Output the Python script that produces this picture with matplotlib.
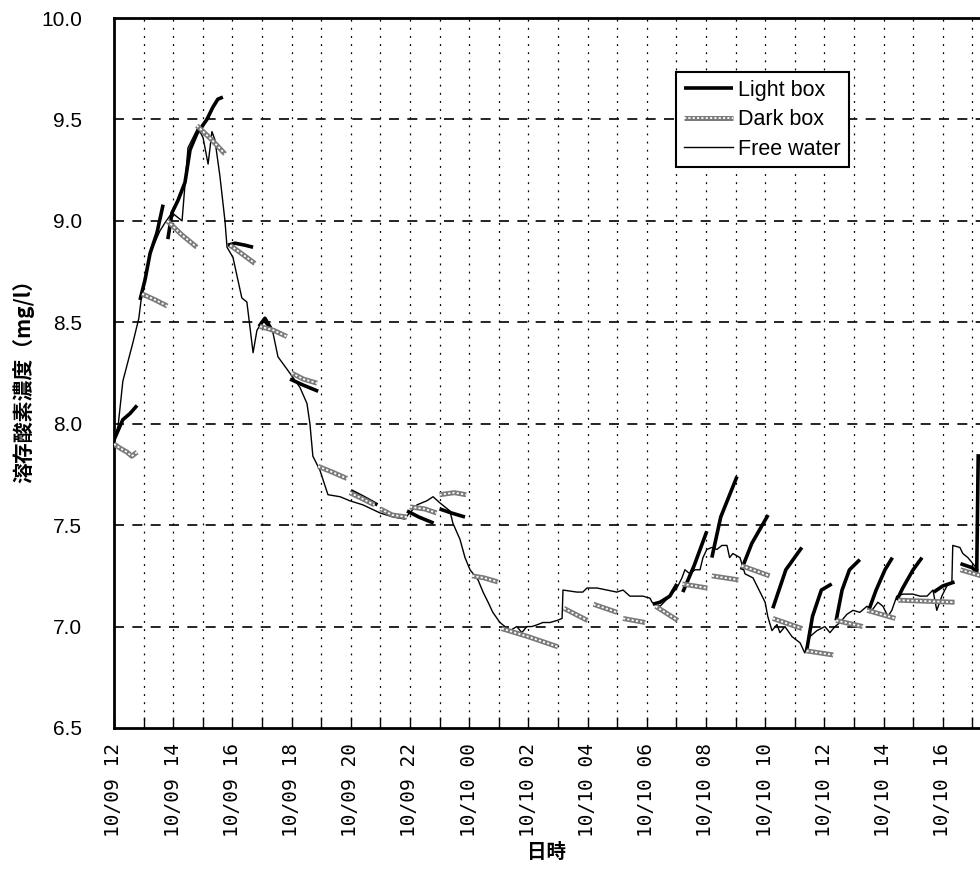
import numpy as np
import matplotlib
matplotlib.use("Agg")
import matplotlib.pyplot as plt
from matplotlib.ticker import MultipleLocator

nan = np.nan

# hours after 10/09 12:00
free_h = [0, 0.14, 0.30, 0.64, 0.84, 0.95, 1.22, 1.55, 1.72, 1.96, 2.30, 2.50, 2.84, 3.01,
          3.18, 3.31, 3.41, 3.58, 3.75, 3.82, 4.02, 4.32, 4.49, 4.70, 4.83, 5.03, 5.37,
          5.54, 5.84, 6.28, 6.52, 6.62, 6.72, 6.96, 7.23, 7.64, 7.97, 8.41, 8.99, 9.43,
          9.83, 9.93, 10.24, 10.57, 10.78, 11.01, 11.35, 11.45, 11.69, 11.86, 12.03, 12.30,
          12.47, 12.64, 12.80, 13.04, 13.21, 13.38, 13.61, 13.78, 13.95, 14.12, 14.32,
          14.49, 14.73, 14.97, 15.14, 15.17, 15.64, 15.84, 15.98, 16.32, 16.66, 16.99,
          17.20, 17.43, 17.87, 18.11, 18.18, 18.45, 18.78, 19.02, 19.19, 19.29, 19.46,
          19.63, 19.80, 19.90, 20.03, 20.20, 20.37, 20.54, 20.71, 20.80, 20.91, 21.15,
          21.32, 21.59, 21.76, 22.00, 22.09, 22.23, 22.40, 22.50, 22.67, 22.91, 23.18,
          23.34, 23.51, 23.75, 24.02, 24.19, 24.36, 24.53, 24.76, 24.97, 25.20, 25.44,
          25.61, 25.81, 25.98, 26.15, 26.28, 26.45, 26.66, 26.99, 27.23, 27.47, 27.67,
          27.80, 27.97, 28.14, 28.31, 28.34, 28.58, 28.68, 28.85, 29.02, 29.19]
free_v = [7.92, 7.99, 8.21, 8.40, 8.52, 8.65, 8.84, 8.95, 8.99, 9.04, 9.00, 9.36, 9.46, 9.41,
          9.28, 9.44, 9.40, 9.22, 9.00, 8.87, 8.82, 8.62, 8.60, 8.35, 8.46, 8.51, 8.45,
          8.33, 8.27, 8.18, 8.10, 8.00, 7.84, 7.77, 7.65, 7.64, 7.62, 7.60, 7.56, 7.54,
          7.53, 7.55, 7.60, 7.62, 7.64, 7.61, 7.57, 7.51, 7.43, 7.34, 7.28, 7.23,
          7.17, 7.12, 7.07, 7.02, 7.00, 6.98, 7.00, 6.97, 7.00, 7.00, 7.01,
          7.02, 7.02, 7.03, 7.04, 7.18, 7.17, 7.17, 7.19, 7.19, 7.18, 7.17,
          7.18, 7.15, 7.15, 7.14, 7.12, 7.10, 7.15, 7.19, 7.24, 7.28, 7.26,
          7.28, 7.28, 7.34, 7.38, 7.39, 7.38, 7.40, 7.40, 7.34, 7.36, 7.34,
          7.26, 7.24, 7.19, 7.12, 7.05, 6.98, 7.01, 6.97, 7.00, 6.95, 6.92,
          6.87, 6.95, 6.98, 7.00, 6.97, 7.00, 7.02, 7.06, 7.08, 7.07, 7.10,
          7.08, 7.12, 7.10, 7.05, 7.08, 7.15, 7.16, 7.16, 7.15, 7.15, 7.18,
          7.08, 7.15, 7.20, 7.22, 7.40, 7.39, 7.36, 7.34, 7.31, 7.28]

# light box, one run per incubation, nan splits the runs
light_h = [0, 0.30, 0.54, 0.78, nan,
           0.88, 1.05, 1.22, 1.45, 1.66, nan,
           1.82, 1.96, 2.16, 2.40, 2.57, 2.80, 3.14, 3.34, 3.51, 3.68, nan,
           3.85, 4.09, 4.43, 4.70, nan,
           4.90, 5.10, 5.30, nan,
           5.95, 6.40, 6.90, nan,
           8.00, 8.40, 8.90, nan,
           9.90, 10.30, 10.80, nan,
           11.00, 11.40, 11.86, nan,
           18.20, 18.45, 18.78, 19.02, nan,
           19.22, 19.60, 20.03, nan,
           20.20, 20.50, 21.05, nan,
           21.20, 21.55, 22.10, nan,
           22.26, 22.70, 23.24, nan,
           23.40, 23.60, 23.90, 24.25, nan,
           24.40, 24.60, 24.85, 25.20, nan,
           25.50, 25.75, 26.05, 26.30, nan,
           26.45, 26.65, 27.00, 27.30, nan,
           27.70, 28.00, 28.40, nan,
           28.60, 29.00, 29.15, 29.20]
light_v = [7.92, 8.02, 8.05, 8.09, nan,
           8.61, 8.71, 8.84, 8.94, 9.08, nan,
           8.91, 9.04, 9.10, 9.19, 9.35, 9.43, 9.50, 9.56, 9.60, 9.61, nan,
           8.88, 8.89, 8.88, 8.87, nan,
           8.48, 8.52, 8.47, nan,
           8.22, 8.19, 8.16, nan,
           7.67, 7.64, 7.60, nan,
           7.57, 7.54, 7.51, nan,
           7.58, 7.56, 7.54, nan,
           7.11, 7.12, 7.15, 7.21, nan,
           7.17, 7.30, 7.47, nan,
           7.34, 7.54, 7.74, nan,
           7.28, 7.41, 7.55, nan,
           7.09, 7.28, 7.39, nan,
           6.88, 7.05, 7.18, 7.21, nan,
           7.03, 7.18, 7.28, 7.33, nan,
           7.08, 7.18, 7.28, 7.34, nan,
           7.13, 7.19, 7.28, 7.34, nan,
           7.17, 7.20, 7.22, nan,
           7.31, 7.29, 7.27, 7.85]

dark_h = [0, 0.2, 0.44, 0.6, 0.78, nan,
          0.95, 1.4, 1.8, nan,
          1.8, 2.3, 2.8, nan,
          2.8, 3.3, 3.75, nan,
          3.92, 4.3, 4.76, nan,
          4.93, 5.4, 5.84, nan,
          6.0, 6.4, 6.86, nan,
          6.9, 7.4, 7.87, nan,
          7.97, 8.4, 8.8, nan,
          9.0, 9.4, 9.9, nan,
          10.0, 10.5, 10.9, nan,
          11.0, 11.5, 11.9, nan,
          12.1, 12.5, 12.97, nan,
          13.1, 14.0, 15.0, nan,
          15.2, 16.0, nan,
          16.2, 17.0, nan,
          17.2, 17.95, nan,
          18.3, 19.05, nan,
          19.2, 20.05, nan,
          20.2, 21.1, nan,
          21.2, 22.15, nan,
          22.26, 23.25, nan,
          23.4, 24.3, nan,
          24.4, 25.3, nan,
          25.45, 26.4, nan,
          26.5, 28.4, nan,
          28.6, 29.3]
dark_v = [7.90, 7.88, 7.86, 7.84, 7.86, nan,
          8.64, 8.61, 8.58, nan,
          9.00, 8.93, 8.87, nan,
          9.47, 9.40, 9.33, nan,
          8.88, 8.84, 8.79, nan,
          8.48, 8.46, 8.43, nan,
          8.25, 8.22, 8.20, nan,
          7.79, 7.76, 7.73, nan,
          7.66, 7.63, 7.60, nan,
          7.58, 7.55, 7.54, nan,
          7.59, 7.58, 7.56, nan,
          7.65, 7.66, 7.65, nan,
          7.25, 7.24, 7.22, nan,
          6.99, 6.95, 6.90, nan,
          7.09, 7.03, nan,
          7.11, 7.07, nan,
          7.04, 7.02, nan,
          7.10, 7.03, nan,
          7.21, 7.19, nan,
          7.25, 7.23, nan,
          7.30, 7.25, nan,
          7.04, 6.99, nan,
          6.88, 6.86, nan,
          7.03, 7.00, nan,
          7.08, 7.04, nan,
          7.13, 7.12, nan,
          7.28, 7.25]

tick_hours = [0, 2, 4, 6, 8, 10, 12, 14, 16, 18, 20, 22, 24, 26, 28]
tick_labels = ["10/09 12", "10/09 14", "10/09 16", "10/09 18", "10/09 20", "10/09 22",
               "10/10 00", "10/10 02", "10/10 04", "10/10 06", "10/10 08", "10/10 10",
               "10/10 12", "10/10 14", "10/10 16"]
y_ticks = [6.5, 7.0, 7.5, 8.0, 8.5, 9.0, 9.5, 10.0]

plt.rcParams['font.family'] = ['Liberation Sans', 'Noto Sans CJK JP', 'DejaVu Sans']

fig = plt.figure(figsize=(9.8, 8.71), dpi=100)
ax = fig.add_axes([0.1163, 0.1642, 0.8837, 0.8151])

# grid first
for h in range(0, 30):
    ax.axvline(h, color='black', lw=0.9, linestyle=(0, (1.5, 5)), zorder=1)
for y in y_ticks[1:-1]:
    ax.axhline(y, color='black', lw=1.2, linestyle=(0, (6, 5)), zorder=1)

l_free, = ax.plot(free_h, free_v, color='black', lw=1.0, zorder=3)
l_light, = ax.plot(light_h, light_v, color='black', lw=2.6, zorder=4,
                   solid_capstyle='butt')
d_base, = ax.plot(dark_h, dark_v, color='#7a7a7a', lw=3.6, zorder=5,
                  solid_capstyle='butt')
d_top, = ax.plot(dark_h, dark_v, color='white', lw=1.3, zorder=6,
                 linestyle=(0, (1.2, 1.2)))

ax.set_xlim(0, 29.26)
ax.set_ylim(6.5, 10.0)
ax.set_yticks(y_ticks)
ax.set_yticklabels([f"{v:.1f}" for v in y_ticks], fontsize=15)
ax.set_xticks(tick_hours)
ax.set_xticklabels(tick_labels, rotation=90, fontsize=14, family=['DejaVu Sans Mono'])
ax.xaxis.set_minor_locator(MultipleLocator(1))
ax.tick_params(axis='x', which='both', direction='in', length=8, width=1, pad=11)
ax.tick_params(axis='y', direction='in', length=0, pad=23)

for side in ['left', 'bottom', 'top']:
    ax.spines[side].set_linewidth(2)
ax.spines['right'].set_visible(False)

fig.text(23 / 980, (871 - 376) / 871, "溶存酸素濃度（mg/l）", rotation=90,
         ha='center', va='center', fontsize=15, fontweight='bold',
         family=['Noto Sans CJK JP'])

ax.set_xlabel("日時", fontsize=14, fontweight='bold',
              family=['Noto Sans CJK JP'], labelpad=4)

leg = ax.legend([l_light, (d_base, d_top), l_free], ["Light box", "Dark box", "Free water"],
                loc='upper left', bbox_to_anchor=(0.649, 0.924), borderaxespad=0,
                fancybox=False, framealpha=1, edgecolor='black', fontsize=15.5,
                handlelength=2.3, handletextpad=0.25, labelspacing=0.4,
                borderpad=0.35)
leg.get_frame().set_linewidth(1.5)
leg.set_zorder(10)

fig.savefig("out.png", dpi=100)
